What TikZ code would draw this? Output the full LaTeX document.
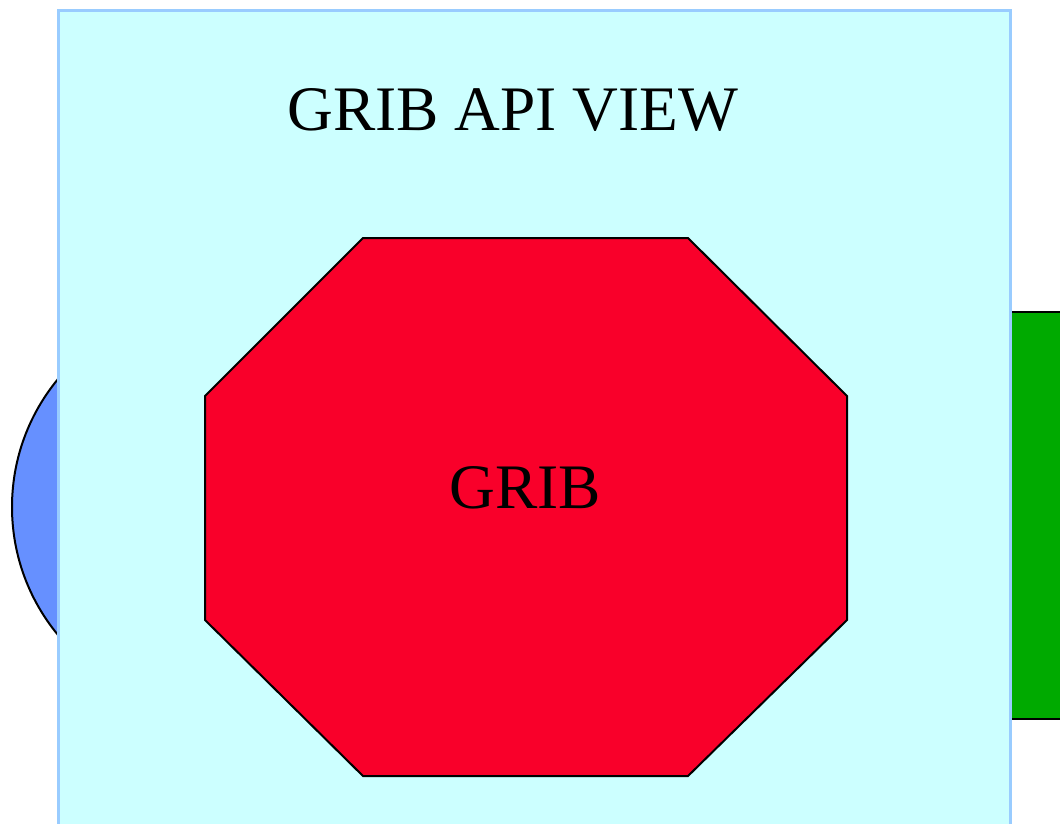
\documentclass[tikz,border=0pt]{standalone}
\usepackage{fontspec}
\setmainfont{Liberation Serif}
\usetikzlibrary{
  calc % For coordinate calculations
}

\definecolor{viewfill}{HTML}{CCFFFF}
\definecolor{viewline}{HTML}{99CCFF}
\definecolor{gribred}{HTML}{F9002A}
\definecolor{leftblue}{HTML}{6690FF}
\definecolor{rightgreen}{HTML}{00AA00}

\begin{document}
\begin{tikzpicture}[
      x=1pt, y=-1pt, % Pixel-like units, y downwards
      outline/.style={draw=black, line width=2pt}, % Outlined shapes
      view/.style={fill=viewfill, draw=viewline, line width=3pt}, % View frame
      bigtext/.style={font=\fontsize{63.4}{70}\selectfont, inner sep=0pt}, % Texts
    ]

    % Rahmen
    \useasboundingbox (0,0) rectangle (1060,823);

    % Formen hinter der Ansicht
    \draw[outline, fill=leftblue] (213,507) circle[radius=201];
    \draw[outline, fill=rightgreen] (990,312) rectangle (1080,719);

    % Ansicht
    \draw[view] (58,10) rectangle (1010,840);
    \node[bigtext] (title) at (513,110) {GRIB API VIEW};

    % Koordinaten vom Achteck
    \coordinate (P1) at (363,238);
    \coordinate (P2) at (688,238);
    \coordinate (P3) at (847,396);
    \coordinate (P4) at (847,620);
    \coordinate (P5) at (688,776);
    \coordinate (P6) at (363,776);
    \coordinate (P7) at (205,620);
    \coordinate (P8) at (205,396);

    % Achteck
    \draw[outline, fill=gribred, line join=miter]
      (P1) -- (P2) -- (P3) -- (P4) -- (P5) -- (P6) -- (P7) -- (P8) -- cycle;
    \node[bigtext] (grib) at ($(P1)!0.5!(P5) + (0,-19)$) {GRIB};

  \end{tikzpicture}
\end{document}
